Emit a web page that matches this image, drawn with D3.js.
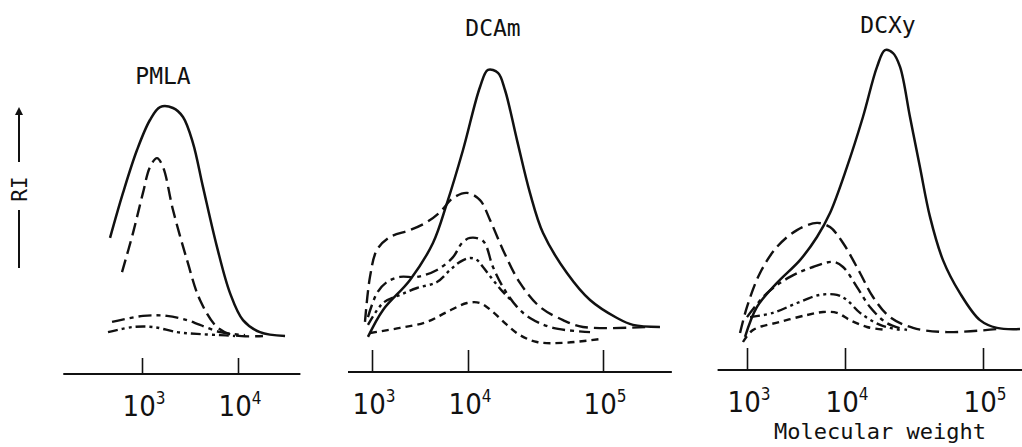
<!DOCTYPE html>
<html>
<head>
<meta charset="utf-8">
<script src="https://cdn.jsdelivr.net/npm/d3@7"></script>
<style>
  html, body { margin: 0; padding: 0; background: #fff; }
  svg { display: block; }
</style>
</head>
<body>
<svg id="chart" width="1022" height="447"></svg>
<script>
// ---------------- DATA (x = log10 molecular weight, y = RI, arbitrary units) ----------------
const panelTitles = ["PMLA", "DCAm", "DCXy"];
const tickExponents = [[3, 4], [3, 4, 5], [3, 4, 5]];
const axisExtentLogM = [[2.18, 4.65], [2.75, 5.51], [2.70, 5.30]];
const xAxisLabel = "Molecular weight";
const yAxisLabel = "RI";

// PMLA
const pmlaSolidLogM = [2.667, 2.802, 2.948, 3.083, 3.188, 3.323, 3.427, 3.531, 3.635, 3.781, 3.917, 4.052, 4.229, 4.490];
const pmlaSolidRI   = [35.7, 50.7, 65.0, 75.0, 79.3, 79.0, 76.0, 67.3, 52.7, 32.7, 17.3, 8.3, 4.3, 3.0];
const pmlaDashLogM  = [2.792, 2.906, 3.010, 3.083, 3.156, 3.219, 3.323, 3.469, 3.604, 3.781, 3.948, 4.260];
const pmlaDashRI    = [24.3, 37.3, 50.7, 59.3, 62.3, 59.3, 45.0, 28.3, 15.0, 6.0, 3.3, 3.0];
const pmlaDashDotLogM = [2.688, 3.010, 3.260, 3.469, 3.604, 3.813, 4.073];
const pmlaDashDotRI   = [7.7, 9.7, 9.7, 8.3, 6.7, 4.3, 3.3];
const pmlaDashDotDotLogM = [2.646, 2.906, 3.115, 3.365, 3.573, 3.813, 3.969];
const pmlaDashDotDotRI   = [4.3, 6.0, 6.0, 4.3, 3.7, 3.3, 3.0];

// DCAm
const dcamSolidLogM = [2.958, 3.115, 3.396, 3.635, 3.781, 3.948, 4.089, 4.148, 4.222, 4.274, 4.363, 4.459, 4.556, 4.733, 4.904, 5.104, 5.222, 5.422];
const dcamSolidRI   = [2.7, 11.7, 21.7, 34.0, 47.3, 65.0, 86.0, 91.7, 90.7, 85.0, 68.3, 50.7, 37.3, 24.0, 15.0, 9.0, 6.7, 6.0];
const dcamDashLogM  = [2.927, 2.979, 3.052, 3.188, 3.396, 3.573, 3.708, 3.844, 3.990, 4.089, 4.163, 4.259, 4.385, 4.533, 4.704, 4.852, 5.326];
const dcamDashRI    = [7.7, 22.7, 31.7, 36.0, 38.3, 41.0, 44.3, 49.0, 50.7, 48.3, 41.7, 31.7, 20.7, 12.7, 8.3, 6.0, 6.0];
const dcamDashDotLogM = [2.958, 3.052, 3.156, 3.292, 3.469, 3.677, 3.844, 3.938, 4.015, 4.111, 4.185, 4.259, 4.363, 4.459, 4.630, 4.904];
const dcamDashDotRI   = [9.3, 17.3, 21.0, 22.7, 22.7, 25.0, 29.3, 34.0, 35.7, 34.7, 26.0, 19.3, 12.7, 9.0, 5.7, 4.3];
const dcamDashDotDotLogM = [2.958, 3.115, 3.292, 3.469, 3.677, 3.813, 3.917, 4.015, 4.067, 4.111, 4.185, 4.259, 4.333];
const dcamDashDotDotRI   = [6.7, 14.0, 16.7, 19.0, 21.0, 25.0, 27.7, 29.0, 28.3, 26.0, 21.7, 17.7, 14.3];
const dcamShortDashLogM = [2.979, 3.292, 3.573, 3.781, 3.990, 4.089, 4.185, 4.289, 4.385, 4.511, 4.704, 4.978];
const dcamShortDashRI   = [4.0, 5.7, 7.7, 11.0, 14.0, 14.0, 11.0, 6.7, 3.3, 1.0, 0.7, 2.0];

// DCXy
const dcxySolidLogM = [2.980, 3.102, 3.306, 3.541, 3.714, 3.847, 4.014, 4.130, 4.232, 4.290, 4.348, 4.399, 4.471, 4.543, 4.616, 4.710, 4.833, 4.978, 5.101, 5.268];
const dcxySolidRI   = [2.7, 12.7, 20.7, 28.3, 36.0, 44.0, 59.3, 76.0, 92.7, 98.3, 97.3, 92.7, 76.0, 59.3, 42.7, 28.3, 17.3, 8.3, 5.7, 5.3];
const dcxyDashLogM  = [2.929, 3.000, 3.133, 3.306, 3.510, 3.714, 3.847, 3.980, 4.109, 4.203, 4.326, 4.493, 4.739, 5.101];
const dcxyDashRI    = [4.0, 12.7, 24.0, 32.7, 38.3, 40.7, 39.3, 34.0, 24.0, 16.0, 9.3, 5.7, 4.3, 5.3];
const dcxyDashDotLogM = [3.000, 3.204, 3.439, 3.673, 3.878, 3.980, 4.087, 4.181, 4.304, 4.449];
const dcxyDashDotRI   = [9.3, 17.3, 22.7, 26.0, 27.7, 26.0, 19.3, 12.7, 7.3, 5.0];
const dcxyDashDotDotLogM = [3.031, 3.265, 3.510, 3.745, 3.918, 4.014, 4.109, 4.254, 4.399];
const dcxyDashDotDotRI   = [9.3, 10.7, 14.0, 16.7, 16.7, 15.0, 10.7, 6.7, 5.0];
const dcxyShortDashLogM = [2.959, 3.061, 3.337, 3.612, 3.776, 3.918, 4.036, 4.159, 4.304];
const dcxyShortDashRI   = [1.0, 5.0, 7.7, 10.0, 11.0, 10.7, 8.3, 6.0, 5.0];

// ---------------- BUILD ----------------
const styles = {
  solid: null,
  dash: "13,6",
  dashDot: "13,5,4,5",
  dashDotDot: "10,4,3,4,3,4",
  shortDash: "7,5"
};

const panelSeries = [
  [
    ["solid", pmlaSolidLogM, pmlaSolidRI],
    ["dash", pmlaDashLogM, pmlaDashRI],
    ["dashDot", pmlaDashDotLogM, pmlaDashDotRI],
    ["dashDotDot", pmlaDashDotDotLogM, pmlaDashDotDotRI]
  ],
  [
    ["solid", dcamSolidLogM, dcamSolidRI],
    ["dash", dcamDashLogM, dcamDashRI],
    ["dashDot", dcamDashDotLogM, dcamDashDotRI],
    ["dashDotDot", dcamDashDotDotLogM, dcamDashDotDotRI],
    ["shortDash", dcamShortDashLogM, dcamShortDashRI]
  ],
  [
    ["solid", dcxySolidLogM, dcxySolidRI],
    ["dash", dcxyDashLogM, dcxyDashRI],
    ["dashDot", dcxyDashDotLogM, dcxyDashDotRI],
    ["dashDotDot", dcxyDashDotDotLogM, dcxyDashDotDotRI],
    ["shortDash", dcxyShortDashLogM, dcxyShortDashRI]
  ]
];

const svg = d3.select("#chart");
const ink = "#111";
const monoFont = "'DejaVu Sans Mono', 'Liberation Mono', monospace";
const numFont = "'Liberation Sans Narrow', 'DejaVu Sans Condensed', 'Liberation Sans', sans-serif";

// Layout per panel
const layout = [
  { domain: [3, 4], range: [142, 238], axisY: 374, tick: 16, titleX: 163, titleY: 84 },
  { domain: [3, 4, 5], range: [372, 468, 603], axisY: 372, tick: 22, titleX: 493, titleY: 36 },
  { domain: [3, 4, 5], range: [747, 845, 983], axisY: 370, tick: 22, titleX: 888, titleY: 33 }
];

const y = d3.scaleLinear().domain([0, 100]).range([345, 45]);

layout.forEach((L, i) => {
  const x = d3.scaleLinear().domain(L.domain).range(L.range);
  const g = svg.append("g");

  // axis baseline
  const ext = axisExtentLogM[i];
  g.append("line")
    .attr("x1", x(ext[0])).attr("x2", Math.min(x(ext[1]), 1022))
    .attr("y1", L.axisY).attr("y2", L.axisY)
    .attr("stroke", ink).attr("stroke-width", 1.8);

  // ticks via d3 axis
  const axis = d3.axisBottom(x)
    .tickValues(tickExponents[i])
    .tickSizeInner(-L.tick)
    .tickSizeOuter(0)
    .tickPadding(L.tick + 20)
    .tickFormat(() => "");
  const ag = g.append("g").attr("transform", `translate(0,${L.axisY})`).call(axis);
  ag.select(".domain").remove();
  ag.selectAll(".tick line").attr("stroke", ink).attr("stroke-width", 1.6);
  ag.selectAll(".tick text").remove();

  // tick labels 10^n
  tickExponents[i].forEach(e => {
    const t = g.append("text")
      .attr("x", x(e) + 2)
      .attr("y", L.axisY + 42)
      .attr("text-anchor", "middle")
      .attr("font-family", numFont)
      .attr("font-size", 29)
      .attr("fill", ink);
    t.append("tspan").text("10");
    t.append("tspan").attr("dy", -12).attr("font-size", 17).text(String(e));
  });

  // title
  g.append("text")
    .attr("x", L.titleX).attr("y", L.titleY)
    .attr("text-anchor", "middle")
    .attr("font-family", monoFont)
    .attr("font-size", 23)
    .attr("fill", ink)
    .text(panelTitles[i]);

  // curves
  const line = d3.line()
    .x(d => x(d[0]))
    .y(d => y(d[1]))
    .curve(d3.curveCatmullRom.alpha(0.5));

  panelSeries[i].forEach(([style, xs, ys]) => {
    const pts = xs.map((v, k) => [v, ys[k]]);
    g.append("path")
      .attr("d", line(pts))
      .attr("fill", "none")
      .attr("stroke", ink)
      .attr("stroke-width", style === "solid" ? 2.5 : 2.4)
      .attr("stroke-dasharray", styles[style])
      .attr("stroke-linecap", "butt");
  });
});

// x-axis title
svg.append("text")
  .attr("x", 880).attr("y", 439)
  .attr("text-anchor", "middle")
  .attr("font-family", monoFont)
  .attr("font-size", 22)
  .attr("fill", ink)
  .text(xAxisLabel);

// y-axis label with arrow
svg.append("defs").append("marker")
  .attr("id", "arrow")
  .attr("viewBox", "0 0 10 10")
  .attr("refX", 5).attr("refY", 5)
  .attr("markerWidth", 4).attr("markerHeight", 4)
  .attr("orient", "auto")
  .append("path").attr("d", "M0,0 L10,5 L0,10 z").attr("fill", ink);

svg.append("line")
  .attr("x1", 19).attr("x2", 19).attr("y1", 162).attr("y2", 111)
  .attr("stroke", ink).attr("stroke-width", 2)
  .attr("marker-end", "url(#arrow)");
svg.append("line")
  .attr("x1", 19).attr("x2", 19).attr("y1", 210).attr("y2", 268)
  .attr("stroke", ink).attr("stroke-width", 2);
svg.append("text")
  .attr("transform", "translate(27,189) rotate(-90)")
  .attr("text-anchor", "middle")
  .attr("font-family", monoFont)
  .attr("font-size", 21)
  .attr("fill", ink)
  .text(yAxisLabel);
</script>
</body>
</html>
